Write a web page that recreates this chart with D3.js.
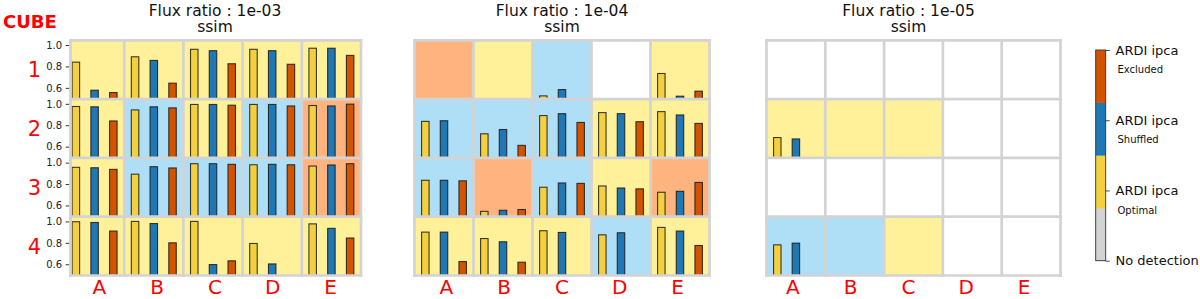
<!DOCTYPE html>
<html>
<head>
<meta charset="utf-8">
<script src="https://cdn.jsdelivr.net/npm/d3@7"></script>
<style>
  html, body { margin: 0; padding: 0; background: #fff; }
  svg { display: block; font-family: "DejaVu Sans", sans-serif; }
</style>
</head>
<body>
<svg id="chart" width="1200" height="299"></svg>
<script>
// ---------------- data ----------------
const columns = ["A", "B", "C", "D", "E"];
const rows = ["1", "2", "3", "4"];
const methods = ["Optimal", "Shuffled", "Excluded"];
const fluxRatios = ["1e-03", "1e-04", "1e-05"];
const metricName = "ssim";
const yTicks = [0.6, 0.8, 1.0];
const legendMain = ["No detection", "ARDI ipca", "ARDI ipca", "ARDI ipca"];
const legendSub = ["", "Optimal", "Shuffled", "Excluded"];

// ssim values [row][col][method] (null = not detected)
const ssim_1e03 = [
  [[0.84, 0.578, 0.556], [0.89, 0.856, 0.644], [0.96, 0.947, 0.825], [0.96, 0.947, 0.82], [0.97, 0.97, 0.903]],
  [[0.975, 0.972, 0.84], [0.943, 0.972, 0.962], [0.994, 0.994, 0.987], [0.994, 0.994, 0.98], [0.984, 0.98, 0.997]],
  [[0.956, 0.952, 0.937], [0.892, 0.962, 0.95], [0.99, 0.99, 0.984], [0.98, 0.984, 0.98], [0.968, 0.978, 0.99]],
  [[0.997, 0.99, 0.91], [1.0, 0.98, 0.80], [1.0, 0.597, 0.632], [0.794, 0.603, null], [0.977, 0.935, 0.845]]
];
const ssim_1e04 = [
  [[null, null, null], [null, null, null], [0.525, 0.584, null], [null, null, null], [0.734, 0.522, 0.569]],
  [[0.836, 0.842, null], [0.72, 0.76, 0.612], [0.89, 0.908, 0.826], [0.918, 0.908, 0.833], [0.927, 0.896, 0.817]],
  [[0.835, 0.835, 0.83], [0.545, 0.555, 0.562], [0.77, 0.81, 0.806], [0.782, 0.763, 0.755], [0.723, 0.732, 0.815]],
  [[0.90, 0.90, 0.625], [0.84, 0.81, 0.619], [0.913, 0.897, null], [0.875, 0.894, null], [0.944, 0.91, 0.775]]
];
const ssim_1e05 = [
  [[null, null, null], [null, null, null], [null, null, null], [null, null, null], [null, null, null]],
  [[0.685, 0.672, null], [null, null, null], [null, null, null], [null, null, null], [null, null, null]],
  [[null, null, null], [null, null, null], [null, null, null], [null, null, null], [null, null, null]],
  [[0.781, 0.797, null], [null, null, null], [null, null, null], [null, null, null], [null, null, null]]
];
// best method per cell: 0 = no detection, 1 = optimal, 2 = shuffled, 3 = excluded
const best_1e03 = [[1, 1, 1, 1, 1], [1, 2, 1, 2, 3], [1, 2, 2, 2, 3], [1, 1, 1, 1, 1]];
const best_1e04 = [[3, 1, 2, 0, 1], [2, 2, 2, 1, 1], [2, 3, 2, 1, 3], [1, 1, 1, 2, 1]];
const best_1e05 = [[0, 0, 0, 0, 0], [1, 1, 1, 0, 0], [0, 0, 0, 0, 0], [2, 2, 1, 0, 0]];

const panelValues = [ssim_1e03, ssim_1e04, ssim_1e05];
const panelBest = [best_1e03, best_1e04, best_1e05];

// ---------------- styles ----------------
const barColors = ["#f4d03f", "#1f77b4", "#d35400"];
const bgColors = ["#ffffff", "#fff09a", "#aedff6", "#ffb47f"];
const legendColors = ["#d3d3d3", "#f4d03f", "#1f77b4", "#d35400"];
const gridColor = "#d3d3d3";
const red = "#ff0000";

// layout per panel: x of left border (line centre), cell width, label/title centre
const panels = [
  { x0: 65.0, cw: 59.2, firstLeft: 70.5, center: 215 },
  { x0: 414.5, cw: 59.0, firstLeft: 414.5, center: 562 },
  { x0: 766.5, cw: 58.8, firstLeft: 766.5, center: 908.5 }
];
const gridTop = 40.3, rowH = 58.8;

const svg = d3.select("#chart");

// row band scale
const yRow = d3.scaleBand().domain(rows).range([gridTop, gridTop + rowH * rows.length]).padding(0);
// value scale inside a cell (relative to cell top)
const yVal = d3.scaleLinear().domain([0.495, 1.044]).range([rowH, 0]);
// bar position inside a cell
const xBarDomain = [-0.58, 2.58];
const barW = 0.4;

const defs = svg.append("defs");

panels.forEach((p, pi) => {
  const g = svg.append("g");
  const xCol = d3.scaleBand().domain(columns).range([p.x0, p.x0 + p.cw * columns.length]).padding(0);
  const vals = panelValues[pi];
  const best = panelBest[pi];

  rows.forEach((r, ri) => {
    columns.forEach((c, ci) => {
      const cx = xCol(c), cy = yRow(r);
      const left = ci === 0 ? p.firstLeft : cx;
      const cell = g.append("g");
      const clipId = `clip-${pi}-${ri}-${ci}`;
      defs.append("clipPath").attr("id", clipId)
        .append("rect").attr("x", left).attr("y", cy).attr("width", cx + p.cw - left).attr("height", rowH);
      cell.append("rect")
        .attr("x", left).attr("y", cy)
        .attr("width", cx + p.cw - left).attr("height", rowH)
        .attr("fill", bgColors[best[ri][ci]]);
      const xs = d3.scaleLinear().domain(xBarDomain).range([cx, cx + p.cw]);
      const bars = vals[ri][ci].map((v, mi) => ({ v, mi })).filter(d => d.v !== null);
      cell.append("g").attr("clip-path", `url(#${clipId})`)
        .selectAll("rect").data(bars).join("rect")
        .attr("x", d => xs(d.mi - barW / 2))
        .attr("width", d => xs(barW) - xs(0))
        .attr("y", d => cy + yVal(d.v))
        .attr("height", d => rowH - yVal(d.v) + 2)
        .attr("fill", d => barColors[d.mi])
        .attr("stroke", "#1a1a1a")
        .attr("stroke-opacity", 0.85)
        .attr("stroke-width", 1.1);
    });
  });

  // grid lines
  const xEdges = [p.firstLeft].concat(columns.map(c => xCol(c) + p.cw));
  const yEdges = [gridTop].concat(rows.map(r => yRow(r) + rowH));
  g.selectAll("line.v").data(xEdges).join("line")
    .attr("x1", d => d).attr("x2", d => d)
    .attr("y1", gridTop - 1.35).attr("y2", gridTop + rowH * rows.length + 1.35)
    .attr("stroke", gridColor).attr("stroke-width", 2.7);
  g.selectAll("line.h").data(yEdges).join("line")
    .attr("x1", p.firstLeft - 1.35).attr("x2", p.x0 + p.cw * columns.length + 1.35)
    .attr("y1", d => d).attr("y2", d => d)
    .attr("stroke", gridColor).attr("stroke-width", 2.7);

  // titles
  svg.append("text").attr("x", p.center).attr("y", 15.5)
    .attr("text-anchor", "middle").attr("font-size", 15.5).attr("fill", "#111")
    .text(`Flux ratio : ${fluxRatios[pi]}`);
  svg.append("text").attr("x", p.center).attr("y", 32)
    .attr("text-anchor", "middle").attr("font-size", 15.5).attr("fill", "#111")
    .text(metricName);

  // column labels
  const xLab = d3.scalePoint().domain(columns).range([p.center - 2 * 57.8, p.center + 2 * 57.8]);
  svg.append("g").selectAll("text").data(columns).join("text")
    .attr("x", d => xLab(d)).attr("y", 294)
    .attr("text-anchor", "middle").attr("font-size", 20).attr("fill", red)
    .text(d => d);

  // y axes only for first panel
  if (pi === 0) {
    rows.forEach(r => {
      const ax = d3.axisLeft(d3.scaleLinear().domain(yVal.domain()).range([yRow(r) + rowH, yRow(r)]))
        .tickValues(yTicks).tickFormat(d3.format(".1f")).tickSize(3.5).tickPadding(3.5);
      const ag = svg.append("g").attr("transform", `translate(${p.firstLeft - 1.35},0)`).call(ax);
      ag.select(".domain").remove();
      ag.selectAll("line").attr("stroke", "#222").attr("stroke-width", 0.9);
      ag.selectAll("text").attr("font-size", 10).attr("fill", "#222")
        .attr("font-family", "DejaVu Sans, sans-serif");
    });
    // row labels
    svg.append("g").selectAll("text").data(rows).join("text")
      .attr("x", 34.5).attr("y", d => yRow(d) + rowH / 2)
      .attr("dy", "0.36em")
      .attr("text-anchor", "middle").attr("font-size", 21).attr("fill", red)
      .text(d => d);
  }
});

// CUBE label
svg.append("text").attr("x", 3).attr("y", 28)
  .attr("font-size", 18).attr("font-weight", "bold").attr("fill", red)
  .text("CUBE");

// ---------------- legend colourbar ----------------
const lx = 1095.7, lw = 10;
const yLeg = d3.scaleLinear().domain([0, 3]).range([260.7, 50]);
const segH = (yLeg(0) - yLeg(3)) / legendColors.length;
const lg = svg.append("g");
lg.selectAll("rect.seg").data(legendColors).join("rect")
  .attr("x", lx).attr("width", lw)
  .attr("y", (d, i) => yLeg(0) - (i + 1) * segH)
  .attr("height", segH + 0.3)
  .attr("fill", d => d);
lg.append("rect").attr("x", lx).attr("y", yLeg(3)).attr("width", lw).attr("height", yLeg(0) - yLeg(3))
  .attr("fill", "none").attr("stroke", "#333").attr("stroke-width", 0.9);
const legAxis = d3.axisRight(yLeg).tickValues([0, 1, 2, 3]).tickSize(4).tickFormat(() => "");
const lag = lg.append("g").attr("transform", `translate(${lx + lw},0)`).call(legAxis);
lag.select(".domain").remove();
lag.selectAll("line").attr("stroke", "#333").attr("stroke-width", 0.9);
lg.selectAll("text.main").data(legendMain).join("text")
  .attr("x", 1115.5).attr("y", (d, i) => yLeg(i)).attr("dy", "0.36em")
  .attr("font-size", 13).attr("fill", "#111").text(d => d);
lg.selectAll("text.sub").data(legendSub).join("text")
  .attr("x", 1117.5).attr("y", (d, i) => yLeg(i) + 19.5).attr("dy", "0.36em")
  .attr("font-size", 10).attr("fill", "#111").text(d => d);
</script>
</body>
</html>
